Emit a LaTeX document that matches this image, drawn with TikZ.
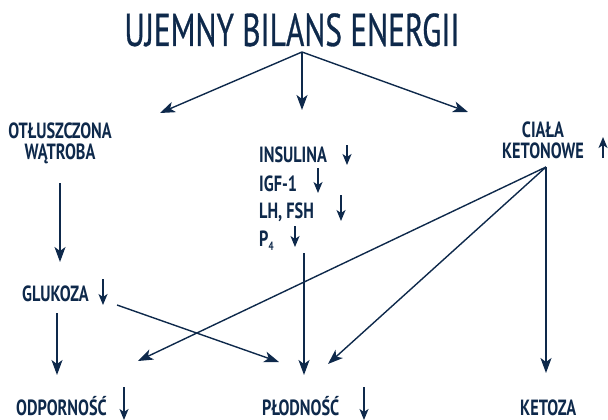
\documentclass[tikz,border=0pt]{standalone}
\usepackage{fontspec}
\usetikzlibrary{arrows.meta}
\newfontfamily\titlefont[FakeStretch=0.68,FakeBold=0.6]{PT Sans}
\newfontfamily\labfont[FakeStretch=0.74]{PT Sans Bold}
\definecolor{navy}{RGB}{14,41,75}
\tikzset{
  conn/.style={draw=navy, line width=1.4pt, -{Stealth[length=15pt,width=11pt,inset=4pt]}},
  mark arrow/.style={draw=navy, line width=1.8pt, -{Stealth[length=11pt,width=9pt,inset=3pt]}},
  lab/.style={text=navy, font=\labfont\fontsize{22}{23}\selectfont, inner sep=0pt},
  bottomlab/.style={lab, anchor=base west, text depth=0pt},
}
\begin{document}
\begin{tikzpicture}[x=1pt,y=-1pt]
\useasboundingbox (0,0) rectangle (608,420);
% title
\node[text=navy, font=\titlefont\fontsize{46}{48}\selectfont, inner sep=0pt, anchor=base] (title) at (292,46) {UJEMNY BILANS ENERGII};
% labels
\node[lab, align=center] (liver) at (60,143) {OTŁUSZCZONA\\[-2pt]WĄTROBA};
\node[lab, align=center] (ket) at (543,140) {CIAŁA\\[-2pt]KETONOWE};
\node[lab, anchor=base west] (ins) at (259,162) {INSULINA};
\node[lab, anchor=base west] (igf) at (259,191) {IGF-1};
\node[lab, anchor=base west] (lh) at (259,218) {LH, FSH};
\node[lab, anchor=base west] (p4) at (259,246) {P\raisebox{-4pt}{\fontsize{12}{12}\selectfont 4}};
\node[lab, anchor=base west] (glu) at (22,301) {GLUKOZA};
\node[bottomlab] (odp) at (16,415) {ODPORNOŚĆ};
\node[bottomlab] (plod) at (262,415) {PŁODNOŚĆ};
\node[bottomlab] (ketoza) at (520,415) {KETOZA};
% connector points
\coordinate (apex) at (302,52);
\coordinate (tL) at (160,113);
\coordinate (tM) at (302,110);
\coordinate (tR) at (468,112);
\coordinate (liverOut) at (60,183);
\coordinate (gluIn) at (60,262);
\coordinate (gluDown) at (57,313);
\coordinate (odpIn) at (57,375);
\coordinate (gluRight) at (117,305);
\coordinate (plodInL) at (279,362);
\coordinate (hormOut) at (304,253);
\coordinate (plodInM) at (304,375);
\coordinate (ketOut) at (546,167);
\coordinate (odpInR) at (138,361);
\coordinate (plodInR) at (328,364);
\coordinate (ketozaIn) at (546,373);
% connectors
\draw[conn] (apex) -- (tL);
\draw[conn] (apex) -- (tM);
\draw[conn] (apex) -- (tR);
\draw[conn] (liverOut) -- (gluIn);
\draw[conn] (gluDown) -- (odpIn);
\draw[conn] (gluRight) -- (plodInL);
\draw[conn] (hormOut) -- (plodInM);
\draw[conn] (ketOut) -- (odpInR);
\draw[conn] (ketOut) -- (plodInR);
\draw[conn] (ketOut) -- (ketozaIn);
% trend arrows
\draw[mark arrow] (347,145) -- (347,165);
\draw[mark arrow] (318,168) -- (318,193);
\draw[mark arrow] (341,195) -- (341,221);
\draw[mark arrow] (295,226) -- (295,247);
\draw[mark arrow] (103,279) -- (103,305);
\draw[mark arrow] (124,387) -- (124,420);
\draw[mark arrow] (364,387) -- (364,420);
\draw[mark arrow] (603,158) -- (603,137);
\end{tikzpicture}
\end{document}
